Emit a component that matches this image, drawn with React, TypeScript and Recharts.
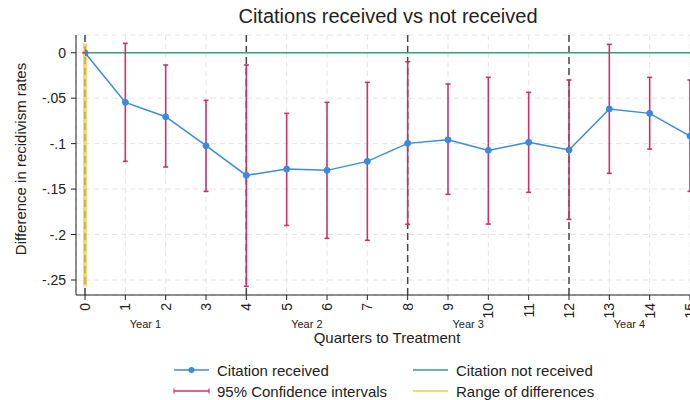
import React from "react";
import {
  ComposedChart,
  Line,
  XAxis,
  YAxis,
  CartesianGrid,
  ReferenceLine,
  ErrorBar,
} from "recharts";

const quarters = [0, 1, 2, 3, 4, 5, 6, 7, 8, 9, 10, 11, 12, 13, 14, 15];
const estimates = [0, -0.0546, -0.0704, -0.1023, -0.1349, -0.128, -0.1294, -0.1195, -0.0997, -0.0957, -0.1074, -0.0986, -0.107, -0.0619, -0.0667, -0.0916];
const ciLow = [0, -0.1195, -0.1257, -0.1525, -0.257, -0.19, -0.2042, -0.2064, -0.1888, -0.1558, -0.1885, -0.1536, -0.1833, -0.1327, -0.106, -0.1525];
const ciHigh = [0, 0.0103, -0.0135, -0.0524, -0.0135, -0.0667, -0.0546, -0.0326, -0.0099, -0.0344, -0.0271, -0.0436, -0.03, 0.0092, -0.0271, -0.03];
const notReceived = [0, 0, 0, 0, 0, 0, 0, 0, 0, 0, 0, 0, 0, 0, 0, 0];
const yTicks = [0, -0.05, -0.1, -0.15, -0.2, -0.25];
const yearTicks = [1.5, 5.5, 9.5, 13.5];
const yearLabels = ["Year 1", "Year 2", "Year 3", "Year 4"];
const yearLines = [0, 4, 8, 12];

const FONT = '"Liberation Sans", Arial, Helvetica, sans-serif';
const BLUE = "#3a8ae0";
const PINK = "#c9336b";
const GREEN = "#2aa57a";
const YELLOW = "#f2c94c";

const rows = quarters.map((q, i) => ({
  q,
  est: estimates[i],
  none: notReceived[i],
  err: [estimates[i] - ciLow[i], ciHigh[i] - estimates[i]],
}));

const rangeHigh = Math.max(...ciHigh);
const rangeLow = Math.min(...ciLow);

const fmtY = (v: number) => {
  if (v === 0) return "0";
  const s = Math.abs(v).toString().replace(/^0/, "");
  return (v < 0 ? "-" : "") + s;
};

const XTick = (props: any) => {
  const { x, y, payload } = props;
  return (
    <text
      x={x}
      y={y}
      transform={`rotate(-90 ${x} ${y})`}
      textAnchor="end"
      dominantBaseline="central"
      fontSize={14}
      fill="#222"
      fontFamily={FONT}
    >
      {payload.value}
    </text>
  );
};

const LegendItem = ({ kind, label, x, y }: any) => (
  <div style={{ position: "absolute", left: x, top: y, display: "flex", alignItems: "center", height: 18 }}>
    <svg width={38} height={12} style={{ marginRight: 6 }}>
      {kind === "blue" && (
        <>
          <line x1={1} y1={6} x2={36} y2={6} stroke={BLUE} strokeWidth={1.5} />
          <circle cx={18.5} cy={6} r={3} fill={BLUE} />
        </>
      )}
      {kind === "pink" && (
        <>
          <line x1={1} y1={6} x2={36} y2={6} stroke={PINK} strokeWidth={1.5} />
          <line x1={1} y1={3.5} x2={1} y2={8.5} stroke={PINK} strokeWidth={1.2} />
          <line x1={36} y1={3.5} x2={36} y2={8.5} stroke={PINK} strokeWidth={1.2} />
        </>
      )}
      {kind === "green" && <line x1={1} y1={6} x2={36} y2={6} stroke={GREEN} strokeWidth={1.5} />}
      {kind === "yellow" && <line x1={1} y1={6} x2={36} y2={6} stroke={YELLOW} strokeWidth={1.5} />}
    </svg>
    <span style={{ fontSize: 15, color: "#222", fontFamily: FONT, whiteSpace: "nowrap" }}>{label}</span>
  </div>
);

export default function App() {
  return (
    <div style={{ position: "absolute", left: 0, top: 0, width: 690, height: 400, background: "#fff", overflow: "hidden", fontFamily: FONT }}>
      <ComposedChart width={690} height={400} data={rows} margin={{ top: 35, right: 0, left: 0, bottom: 51 }}>
        <CartesianGrid strokeDasharray="5 4" stroke="#e4e4e4" />
        <XAxis
          dataKey="q"
          type="number"
          domain={[0, 15]}
          ticks={quarters}
          interval={0}
          padding={{ left: 9, right: 0 }}
          height={24}
          tickSize={5}
          tickMargin={3}
          tick={<XTick />}
          axisLine={{ stroke: "#222" }}
          tickLine={{ stroke: "#222" }}
          allowDataOverflow
        />
        <XAxis
          xAxisId="year"
          type="number"
          domain={[0, 15]}
          ticks={yearTicks}
          interval={0}
          padding={{ left: 9, right: 0 }}
          height={30}
          tickSize={0}
          tickMargin={1}
          axisLine={false}
          tickLine={false}
          tick={{ fontSize: 11, fill: "#222", fontFamily: FONT }}
          tickFormatter={(v: number) => yearLabels[yearTicks.indexOf(v)]}
          allowDataOverflow
        />
        <YAxis
          type="number"
          domain={[-0.2665, 0.0195]}
          ticks={yTicks}
          interval={0}
          width={76}
          tickSize={5}
          tickMargin={5}
          tickFormatter={fmtY}
          tick={{ fontSize: 14, fill: "#222", fontFamily: FONT }}
          axisLine={{ stroke: "#222" }}
          tickLine={{ stroke: "#222" }}
          allowDataOverflow
        />
        {yearLines.map((v) => (
          <ReferenceLine key={v} x={v} stroke="#444" strokeWidth={1.5} strokeDasharray="7 4" />
        ))}
        <ReferenceLine
          segment={[{ x: 0, y: rangeHigh }, { x: 0, y: rangeLow }]}
          stroke={YELLOW}
          strokeOpacity={0.75}
          strokeWidth={4}
        />
        <Line dataKey="none" stroke={GREEN} strokeWidth={1.5} dot={false} isAnimationActive={false} />
        <Line dataKey="est" stroke="none" dot={false} isAnimationActive={false}>
          <ErrorBar dataKey="err" width={2.5} stroke={PINK} strokeWidth={1.6} direction="y" isAnimationActive={false} />
        </Line>
        <Line
          dataKey="est"
          stroke={BLUE}
          strokeWidth={1.5}
          dot={{ r: 3, fill: BLUE, stroke: BLUE, strokeWidth: 1 }}
          isAnimationActive={false}
        />
      </ComposedChart>
      <div style={{ position: "absolute", left: 0, width: 776, top: 5, textAlign: "center", fontSize: 20, color: "#222" }}>
        Citations received vs not received
      </div>
      <div style={{ position: "absolute", left: 0, width: 774, top: 329, textAlign: "center", fontSize: 15, color: "#222" }}>
        Quarters to Treatment
      </div>
      <div
        style={{
          position: "absolute",
          left: 20,
          top: 159,
          transform: "translate(-50%, -50%) rotate(-90deg)",
          fontSize: 15,
          color: "#222",
          whiteSpace: "nowrap",
        }}
      >
        Difference in recidivism rates
      </div>
      <LegendItem kind="blue" label="Citation received" x={173} y={361} />
      <LegendItem kind="pink" label="95% Confidence intervals" x={173} y={382} />
      <LegendItem kind="green" label="Citation not received" x={412} y={361} />
      <LegendItem kind="yellow" label="Range of differences" x={412} y={382} />
    </div>
  );
}
